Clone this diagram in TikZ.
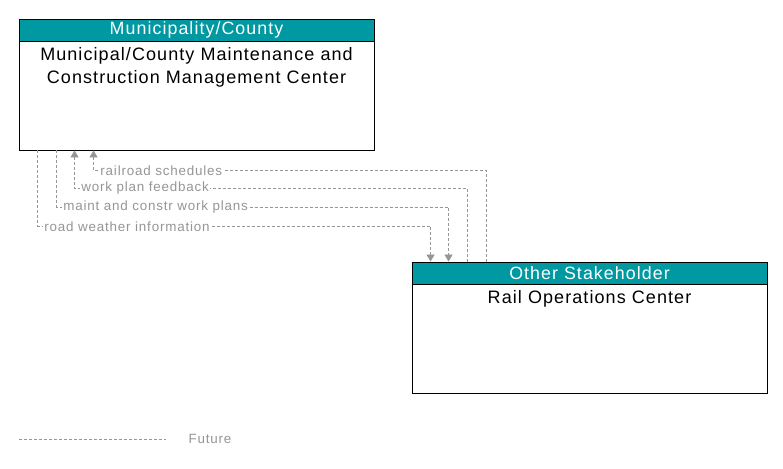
\documentclass[tikz,border=0pt]{standalone}
\usepackage{fontspec}
\setmainfont{Liberation Sans}[LetterSpace=6]
\usetikzlibrary{arrows.meta, positioning}
\definecolor{headteal}{RGB}{0, 152, 161}
\definecolor{flowgray}{RGB}{150, 150, 150}
\definecolor{labelgray}{RGB}{150, 150, 150}

\begin{document}
\begin{tikzpicture}[x=1pt, y=-1pt,
  box/.style={draw, line width=0.9pt, fill=white, minimum width=355pt,
              minimum height=131pt, inner sep=0pt},
  header/.style={draw, line width=0.9pt, fill=headteal, text=white, minimum width=355pt,
                 minimum height=22pt, inner sep=0pt, font=\fontsize{17.8}{20}\selectfont},
  title/.style={align=center, inner sep=0pt, font=\fontsize{18}{22.5}\selectfont},
  flow/.style={draw=flowgray, line width=0.8pt, dash pattern=on 3pt off 2pt},
  flowin/.style={flow, {Triangle[width=8pt, length=7pt]}-},
  flowout/.style={flow, -{Triangle[width=8pt, length=7pt]}},
  flowlabel/.style={fill=white, text=labelgray, inner sep=1.5pt, font=\fontsize{13.4}{15}\selectfont},
]
\useasboundingbox (0,0) rectangle (783,468);

% Maintenance and construction centre, top left
\node[box] (mcmc) at (196.5, 84.5) {};
\node[header, anchor=north] (mcmchead) at (mcmc.north) {Municipality/County};
\node[title, below=6pt of mcmchead] (mcmctitle)
     {Municipal/County Maintenance and\\Construction Management Center};

% Rail operations centre, right
\node[box] (roc) at (589.5, 327.5) {};
\node[header, anchor=north] (rochead) at (roc.north) {Other Stakeholder};
\node[title, below=6pt of rochead] (roctitle) {Rail Operations Center};

% Flows
\draw[flowin] ([xshift=75pt]mcmc.south west) -- ++(0,20)
  -| node[flowlabel, pos=0, anchor=west, xshift=5pt] {railroad schedules} ([xshift=75pt]roc.north west);
\draw[flowin] ([xshift=56pt]mcmc.south west) -- ++(0,38)
  -| node[flowlabel, pos=0, anchor=west, xshift=5pt] {work plan feedback} ([xshift=56pt]roc.north west);
\draw[flowout] ([xshift=38pt]mcmc.south west) -- ++(0,57)
  -| node[flowlabel, pos=0, anchor=west, xshift=5pt] {maint and constr work plans} ([xshift=37pt]roc.north west);
\draw[flowout] ([xshift=19pt]mcmc.south west) -- ++(0,76)
  -| node[flowlabel, pos=0, anchor=west, xshift=5pt] {road weather information} ([xshift=19pt]roc.north west);

% Legend
\coordinate (legstart) at (19, 439);
\coordinate (legend) at (166, 439);
\draw[flow] (legstart) -- (legend);
\node[flowlabel, anchor=west] (legtext) at (187, 439) {Future};
\end{tikzpicture}
\end{document}
